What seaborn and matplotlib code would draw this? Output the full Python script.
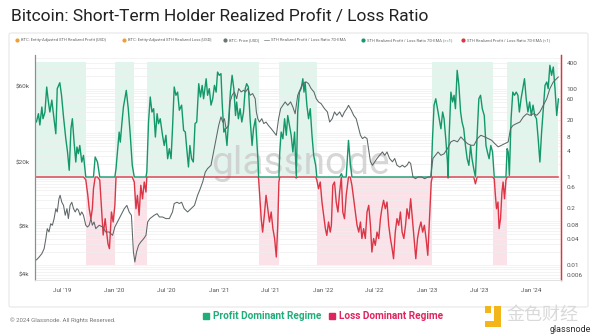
import matplotlib
matplotlib.use("Agg")
import matplotlib.pyplot as plt
from matplotlib.lines import Line2D
from matplotlib.patches import FancyBboxPatch, Rectangle
from matplotlib.ticker import FixedLocator, NullFormatter, LogLocator
import numpy as np
import pandas as pd
import seaborn as sns

# ---------------- data ----------------
ratio_dates = [
    "2019-04-02","2019-04-09","2019-04-14","2019-04-21","2019-04-25","2019-05-02","2019-05-08","2019-05-14","2019-05-19","2019-05-26",
    "2019-05-30","2019-06-09","2019-06-14","2019-06-23","2019-06-29","2019-07-06","2019-07-14","2019-07-20","2019-07-26","2019-08-01",
    "2019-08-06","2019-08-12","2019-08-18","2019-08-22","2019-08-27","2019-09-01","2019-09-08","2019-09-14","2019-09-22","2019-09-29",
    "2019-10-04","2019-10-10","2019-10-15","2019-10-19","2019-10-25","2019-11-02","2019-11-10","2019-11-17","2019-11-22","2019-11-29",
    "2019-12-04","2019-12-09","2019-12-14","2019-12-21","2019-12-27","2020-01-02","2020-01-06","2020-01-11","2020-01-17","2020-01-21",
    "2020-01-27","2020-02-01","2020-02-06","2020-02-11","2020-02-18","2020-02-25","2020-03-03","2020-03-10","2020-03-16","2020-03-21",
    "2020-03-27","2020-04-02","2020-04-08","2020-04-14","2020-04-20","2020-04-23","2020-04-29","2020-05-05","2020-05-11","2020-05-17",
    "2020-05-23","2020-05-29","2020-06-03","2020-06-09","2020-06-17","2020-06-23","2020-06-29","2020-07-05","2020-07-11","2020-07-17",
    "2020-07-22","2020-07-28","2020-08-03","2020-08-09","2020-08-15","2020-08-23","2020-08-30","2020-09-05","2020-09-10","2020-09-16",
    "2020-09-21","2020-09-27","2020-10-03","2020-10-09","2020-10-15","2020-10-22","2020-10-28","2020-11-03","2020-11-08","2020-11-17",
    "2020-11-22","2020-11-28","2020-12-04","2020-12-10","2020-12-16","2020-12-22","2020-12-27","2021-01-02","2021-01-08","2021-01-12",
    "2021-01-18","2021-01-23","2021-01-29","2021-02-04","2021-02-10","2021-02-16","2021-02-22","2021-02-28","2021-03-04","2021-03-10",
    "2021-03-16","2021-03-22","2021-03-28","2021-04-03","2021-04-08","2021-04-14","2021-04-20","2021-04-27","2021-05-02","2021-05-09",
    "2021-05-15","2021-05-18","2021-05-20","2021-05-23","2021-05-29","2021-06-03","2021-06-09","2021-06-15","2021-06-21","2021-06-27",
    "2021-07-03","2021-07-09","2021-07-15","2021-07-21","2021-07-26","2021-07-30","2021-08-02","2021-08-07","2021-08-13","2021-08-19",
    "2021-08-25","2021-08-30","2021-09-05","2021-09-11","2021-09-17","2021-09-23","2021-09-29","2021-10-04","2021-10-10","2021-10-16",
    "2021-10-22","2021-10-26","2021-10-30","2021-11-05","2021-11-11","2021-11-17","2021-11-23","2021-11-29","2021-12-06","2021-12-10",
    "2021-12-16","2021-12-22","2021-12-28","2022-01-03","2022-01-09","2022-01-14","2022-01-20","2022-01-26","2022-01-30","2022-02-04",
    "2022-02-10","2022-02-16","2022-02-22","2022-02-28","2022-03-06","2022-03-11","2022-03-17","2022-03-23","2022-03-31","2022-04-06",
    "2022-04-12","2022-04-18","2022-04-24","2022-04-30","2022-05-06","2022-05-12","2022-05-17","2022-05-23","2022-05-29","2022-06-04",
    "2022-06-10","2022-06-16","2022-06-21","2022-06-27","2022-07-03","2022-07-09","2022-07-15","2022-07-21","2022-07-26","2022-08-01",
    "2022-08-07","2022-08-13","2022-08-19","2022-08-25","2022-08-31","2022-09-05","2022-09-11","2022-09-17","2022-09-23","2022-09-29",
    "2022-10-05","2022-10-11","2022-10-17","2022-10-22","2022-10-29","2022-11-04","2022-11-10","2022-11-16","2022-11-22","2022-11-28",
    "2022-12-04","2022-12-10","2022-12-16","2022-12-22","2022-12-28","2023-01-03","2023-01-09","2023-01-15","2023-01-19","2023-01-25",
    "2023-01-31","2023-02-06","2023-02-12","2023-02-18","2023-02-24","2023-03-01","2023-03-07","2023-03-13","2023-03-15","2023-03-19",
    "2023-03-25","2023-03-31","2023-04-05","2023-04-10","2023-04-16","2023-04-22","2023-04-28","2023-05-03","2023-05-09","2023-05-15",
    "2023-05-21","2023-05-27","2023-06-02","2023-06-07","2023-06-13","2023-06-19","2023-06-25","2023-07-01","2023-07-07","2023-07-13",
    "2023-07-20","2023-07-26","2023-07-31","2023-08-06","2023-08-12","2023-08-18","2023-08-24","2023-08-28","2023-09-01","2023-09-06",
    "2023-09-10","2023-09-15","2023-09-20","2023-09-24","2023-09-29","2023-10-04","2023-10-08","2023-10-12","2023-10-16","2023-10-22",
    "2023-10-28","2023-11-03","2023-11-09","2023-11-15","2023-11-20","2023-11-26","2023-12-02","2023-12-08","2023-12-14","2023-12-20",
    "2023-12-26","2024-01-01","2024-01-07","2024-01-13","2024-01-19","2024-01-25","2024-01-31","2024-02-06","2024-02-12","2024-02-18",
    "2024-02-24","2024-02-29","2024-03-06","2024-03-12","2024-03-18","2024-03-24","2024-03-30","2024-04-05",
]
ratio_values = [
    17.8, 27.5, 15.2, 39, 21.1, 30, 111, 50.7, 30, 56,
    33, 9.6, 102, 139, 72, 23.1, 7.4, 3.7, 1.42, 12.5,
    21.1, 6.2, 2.19, 4.8, 3.4, 5.2, 2.19, 3.1, 0.87, 0.39,
    0.19, 0.113, 0.19, 0.54, 2.85, 2.19, 0.855, 0.16, 0.048, 0.113,
    0.056, 0.030, 0.0235, 0.16, 0.095, 0.227, 1.55, 3.7, 10.5, 6.2,
    17.8, 39, 60, 93, 35.7, 8.9, 1.84, 0.77, 0.19, 0.384,
    0.135, 0.65, 0.32, 0.77, 0.456, 1.3, 17.8, 66, 30, 35.7,
    8.1, 27.5, 16.3, 21.1, 8.9, 5.2, 8.9, 2.6, 4.4, 2.6,
    12.5, 111, 72, 85, 33, 43, 11.5, 10.5, 4.4, 1.69,
    5.2, 2.6, 2.19, 16.3, 17.8, 132, 66, 121, 60, 171,
    72, 102, 43, 60, 121, 85, 243, 205, 223, 50.7,
    10.5, 12.5, 5.2, 21.1, 85, 205, 102, 25, 50.7, 21.1,
    35.7, 17.8, 30, 102, 132, 111, 21.1, 5.2, 12.5, 21.1,
    4.4, 2.19, 0.9, 0.456, 0.113, 0.056, 0.135, 0.384, 0.19, 0.095,
    0.16, 0.067, 0.040, 0.0152, 0.080, 0.77, 3.7, 10.5, 7.4, 21.1,
    8.9, 25, 15, 8.9, 3.7, 10.5, 0.95, 30, 85, 102,
    171, 85, 144, 43, 21.1, 35.7, 8.9, 3.1, 1.84, 0.855,
    0.54, 0.77, 0.27, 0.135, 0.067, 0.047, 0.095, 0.056, 0.080, 0.65,
    0.77, 0.27, 0.16, 0.456, 1.19, 0.16, 0.113, 0.384, 6.8, 2.19,
    0.65, 0.32, 0.16, 0.080, 0.056, 0.095, 0.040, 0.067, 0.040, 0.16,
    0.227, 0.080, 0.0197, 0.040, 0.028, 0.056, 0.040, 0.113, 0.19, 0.295,
    0.19, 0.27, 0.080, 0.040, 0.0235, 0.0139, 0.056, 0.113, 0.080, 0.16,
    0.056, 0.040, 0.080, 0.19, 0.113, 0.32, 0.113, 0.040, 0.0139, 0.040,
    0.067, 0.095, 0.056, 0.080, 0.040, 0.0166, 0.113, 0.77, 6.2, 43,
    60, 35.7, 21.1, 12.5, 30, 21.1, 7.4, 2.19, 0.95, 8.9,
    85, 50.7, 72, 35.7, 266, 121, 30, 17.8, 12.5, 5.2,
    2.6, 1.84, 5.2, 2.6, 1.55, 0.70, 8.9, 60, 72, 35.7,
    25, 5.2, 3.7, 2.6, 5.2, 3.7, 0.91, 0.384, 0.19, 0.27,
    0.067, 0.113, 0.456, 0.77, 0.32, 0.855, 4.4, 3.7, 1.09, 21.1,
    85, 72, 85, 72, 30, 60, 102, 171, 60, 30,
    50.7, 25, 43, 25, 21.1, 7.4, 2.19, 10.5, 35.7, 121,
    144, 102, 346, 205, 316, 102, 25, 60,
]

price_dates = [
    "2019-04-02","2019-04-11","2019-04-21","2019-04-29","2019-05-05","2019-05-10","2019-05-16","2019-05-22","2019-05-28","2019-06-03",
    "2019-06-09","2019-06-14","2019-06-20","2019-06-24","2019-06-30","2019-07-06","2019-07-12","2019-07-18","2019-07-23","2019-07-29",
    "2019-08-04","2019-08-10","2019-08-16","2019-08-22","2019-08-27","2019-09-02","2019-09-08","2019-09-14","2019-09-22","2019-09-28",
    "2019-10-04","2019-10-10","2019-10-15","2019-10-21","2019-10-27","2019-11-08","2019-11-20","2019-12-01","2019-12-13","2019-12-25",
    "2020-01-02","2020-01-11","2020-01-23","2020-02-04","2020-02-13","2020-02-21","2020-02-29","2020-03-07","2020-03-12","2020-03-18",
    "2020-03-25","2020-04-02","2020-04-12","2020-04-20","2020-04-26","2020-05-04","2020-05-11","2020-05-19","2020-05-29","2020-06-06",
    "2020-06-17","2020-06-29","2020-07-11","2020-07-22","2020-07-28","2020-08-07","2020-08-15","2020-08-23","2020-09-01","2020-09-13",
    "2020-09-25","2020-10-07","2020-10-18","2020-10-27","2020-11-05","2020-11-14","2020-11-22","2020-12-04","2020-12-13","2020-12-22",
    "2020-12-31","2021-01-08","2021-01-14","2021-01-20","2021-01-26","2021-02-04","2021-02-09","2021-02-16","2021-02-24","2021-03-04",
    "2021-03-11","2021-03-20","2021-03-28","2021-04-04","2021-04-12","2021-04-20","2021-04-29","2021-05-08","2021-05-12","2021-05-17",
    "2021-05-23","2021-05-31","2021-06-07","2021-06-15","2021-06-23","2021-07-03","2021-07-12","2021-07-21","2021-07-29","2021-08-05",
    "2021-08-13","2021-08-21","2021-08-30","2021-09-09","2021-09-17","2021-09-25","2021-10-04","2021-10-14","2021-10-22","2021-11-03",
    "2021-11-11","2021-11-20","2021-11-30","2021-12-08","2021-12-16","2021-12-25","2022-01-06","2022-01-16","2022-01-24","2022-02-02",
    "2022-02-10","2022-02-18","2022-02-28","2022-03-09","2022-03-17","2022-03-25","2022-03-31","2022-04-10","2022-04-18","2022-04-27",
    "2022-05-06","2022-05-12","2022-05-19","2022-05-27","2022-06-04","2022-06-11","2022-06-16","2022-06-23","2022-07-01","2022-07-09",
    "2022-07-18","2022-07-28","2022-08-05","2022-08-13","2022-08-22","2022-09-01","2022-09-09","2022-09-17","2022-09-27","2022-10-06",
    "2022-10-14","2022-10-22","2022-10-29","2022-11-04","2022-11-12","2022-11-21","2022-11-30","2022-12-12","2022-12-23","2023-01-04",
    "2023-01-13","2023-01-21","2023-01-30","2023-02-08","2023-02-18","2023-03-01","2023-03-13","2023-03-25","2023-04-05","2023-04-17",
    "2023-04-29","2023-05-10","2023-05-22","2023-06-03","2023-06-14","2023-06-26","2023-07-08","2023-07-22","2023-08-03","2023-08-15",
    "2023-08-26","2023-09-07","2023-09-19","2023-09-30","2023-10-12","2023-10-20","2023-10-29","2023-11-10","2023-11-22","2023-12-04",
    "2023-12-16","2023-12-27","2024-01-08","2024-01-20","2024-01-31","2024-02-12","2024-02-24","2024-03-06","2024-03-18","2024-03-30",
    "2024-04-05",
]
price_values = [
    4900, 5100, 5370, 5770, 6670, 7710, 7350, 8280, 8100, 8920,
    10300, 9820, 11900, 12500, 11300, 10800, 9360, 10300, 8920, 10800,
    11300, 10300, 9820, 10300, 10100, 9360, 9820, 9360, 8100, 7900,
    8100, 8920, 8100, 8500, 7710, 8100, 7900, 7350, 7350, 7000,
    7900, 8500, 9360, 10300, 10800, 9820, 9360, 5500, 4760, 5500,
    6060, 6360, 6670, 7000, 8500, 8920, 9130, 9360, 9580, 9130,
    9130, 8920, 8920, 9820, 11100, 11300, 11100, 11300, 10300, 9820,
    10300, 10800, 12500, 13700, 15200, 17500, 18400, 19300, 23400, 28400,
    34400, 38900, 36100, 37900, 32800, 34400, 48300, 53200, 55800, 50600,
    58600, 55800, 57200, 55800, 58600, 53200, 54500, 50600, 41800, 37900,
    36100, 37900, 35300, 36100, 34400, 32800, 31300, 29800, 37900, 43800,
    46000, 48300, 46000, 48300, 44900, 40700, 53200, 58600, 62900, 64500,
    62900, 58600, 55800, 50600, 48300, 47100, 43800, 41800, 36100, 37900,
    41800, 39800, 41800, 38900, 41800, 43800, 46000, 42800, 39800, 37900,
    32800, 29800, 28400, 29100, 28400, 23400, 20300, 19300, 20300, 21300,
    22300, 23400, 22300, 23400, 21300, 20300, 21300, 19300, 18800, 19300,
    18800, 19300, 20300, 19800, 16300, 15900, 16300, 16300, 15900, 16300,
    16300, 21300, 22300, 23400, 22300, 22800, 24600, 27100, 27700, 27100,
    29100, 27700, 26400, 25800, 25800, 28400, 29800, 29100, 28400, 27700,
    26400, 25200, 25800, 26400, 27100, 32800, 34400, 35300, 36100, 38900,
    40700, 39800, 40700, 39800, 41800, 46000, 50600, 58600, 64500, 67700,
    69400,
]

regime_starts = ["2019-04-01", "2019-09-23", "2020-01-03", "2020-03-10", "2020-04-25", "2021-05-23",
                 "2021-07-29", "2021-12-11", "2023-01-17", "2023-08-19", "2023-10-07"]
regime_ends = ["2019-09-23", "2020-01-03", "2020-03-10", "2020-04-25", "2021-05-23", "2021-07-29",
               "2021-12-11", "2023-01-17", "2023-08-19", "2023-10-07", "2024-04-05"]
regime_kinds = ["profit", "loss", "profit", "loss", "profit", "loss",
                "profit", "loss", "profit", "loss", "profit"]

left_ticks = [4000, 8000, 20000, 60000]
left_labels = ["$4k", "$8k", "$20k", "$60k"]
right_ticks = [0.006, 0.01, 0.04, 0.08, 0.2, 0.6, 1, 4, 8, 20, 60, 100, 400]
right_labels = ["0.006", "0.01", "0.04", "0.08", "0.2", "0.6", "1", "4", "8", "20", "60", "100", "400"]
x_tick_dates = ["2019-07-01", "2020-01-01", "2020-07-01", "2021-01-01", "2021-07-01",
                "2022-01-01", "2022-07-01", "2023-01-01", "2023-07-01", "2024-01-01"]
x_tick_labels = ["Jul '19", "Jan '20", "Jul '20", "Jan '21", "Jul '21",
                 "Jan '22", "Jul '22", "Jan '23", "Jul '23", "Jan '24"]

legend_items = ["BTC: Entity-Adjusted STH Realized Profit [USD]",
                "BTC: Entity-Adjusted STH Realized Loss [USD]",
                "BTC: Price [USD]",
                "STH Realized Profit / Loss Ratio 7D-EMA",
                "STH Realized Profit / Loss Ratio 7D-EMA (>=1)",
                "STH Realized Profit / Loss Ratio 7D-EMA (<1)"]

# ---------------- style ----------------
sns.set_theme(style="white")
plt.rcParams["font.family"] = ["Roboto", "DejaVu Sans"]

GREEN = "#13986a"
RED = "#dc3545"
GREY = "#5d6668"
W, H = 600, 334

ratio_df = pd.DataFrame({"date": pd.to_datetime(ratio_dates), "ratio": ratio_values})
ratio_df["profit"] = ratio_df["ratio"].clip(lower=1)
ratio_df["loss"] = ratio_df["ratio"].clip(upper=1)
price_df = pd.DataFrame({"date": pd.to_datetime(price_dates), "price": price_values})

fig = plt.figure(figsize=(W / 100, H / 100), dpi=100)
fig.patch.set_facecolor("white")


def fx(px):
    return px / W


def fy(py):
    return 1 - py / H


# card (behind the axes)
fig.patches.append(FancyBboxPatch((fx(9), fy(307)), fx(588) - fx(9), fy(33) - fy(307),
                                  boxstyle="round,pad=0,rounding_size=0.004",
                                  transform=fig.transFigure, fc="white", ec="#e4e4e4", lw=0.7, zorder=-10))

# bottom axes: ratio (ticks on the right); top twin: price (ticks on the left)
axr = fig.add_axes([fx(35), fy(280), fx(561) - fx(35), fy(55) - fy(280)])
axr.patch.set_visible(False)
axp = axr.twinx()
axp.patch.set_visible(False)

xmin, xmax = pd.Timestamp("2019-03-28"), pd.Timestamp("2024-04-14")

# regimes
for s, e, k in zip(regime_starts, regime_ends, regime_kinds):
    xs = pd.to_datetime([s, e])
    if k == "profit":
        axr.fill_between(xs, 1, 410, color="#19b37a", alpha=0.13, lw=0, zorder=0.5)
    else:
        axr.fill_between(xs, 0.01, 1, color="#e8386a", alpha=0.14, lw=0, zorder=0.5)

# watermark
axr.text(0.505, 0.52, "glassnode", transform=axr.transAxes, ha="center", va="center",
         fontsize=28, color="#c9c9c9", alpha=0.75, zorder=1)

sns.lineplot(data=ratio_df, x="date", y="loss", ax=axr, color=RED, lw=1.0, estimator=None, zorder=3)
sns.lineplot(data=ratio_df, x="date", y="profit", ax=axr, color=GREEN, lw=1.0, estimator=None, zorder=4)
axr.set_yscale("log")
axr.set_ylim(0.00456, 593)

sns.lineplot(data=price_df, x="date", y="price", ax=axp, color=GREY, lw=0.75, estimator=None, zorder=2)
axp.set_yscale("log")
axp.set_ylim(3666, 95300)

axr.set_xlim(xmin, xmax)
axp.set_xlim(xmin, xmax)

# ratio ticks on the right
axr.yaxis.tick_right()
axr.yaxis.set_label_position("right")
axr.yaxis.set_major_locator(FixedLocator(right_ticks))
axr.set_yticklabels(right_labels)
axr.yaxis.set_minor_locator(LogLocator(base=10, subs=np.arange(1, 10)))
axr.yaxis.set_minor_formatter(NullFormatter())
axr.tick_params(axis="y", which="both", length=0, labelsize=4.6, labelcolor="#555555", pad=4)
axr.grid(True, which="both", axis="y", color="#eeeeee", lw=0.5, zorder=0)
axr.grid(False, axis="x")
axr.set_axisbelow(True)

# price ticks on the left
axp.yaxis.tick_left()
axp.yaxis.set_label_position("left")
axp.yaxis.set_major_locator(FixedLocator(left_ticks))
axp.set_yticklabels(left_labels)
axp.yaxis.set_minor_formatter(NullFormatter())
axp.tick_params(axis="y", which="both", length=0, labelsize=4.6, labelcolor="#555555", pad=4)
axp.grid(False)

axr.set_xticks(pd.to_datetime(x_tick_dates))
axr.set_xticklabels(x_tick_labels)
axr.tick_params(axis="x", length=0, labelsize=4.6, labelcolor="#555555", pad=6)
axp.tick_params(axis="x", length=0, labelbottom=False)

for a in (axr, axp):
    a.set_xlabel("")
    a.set_ylabel("")
    a.spines["top"].set_visible(False)
    a.spines["bottom"].set_color("#e2e2e2")
    a.spines["bottom"].set_linewidth(0.6)
    a.spines["left"].set_color("#8a9090")
    a.spines["left"].set_linewidth(0.8)
    a.spines["right"].set_color("#d9363e")
    a.spines["right"].set_linewidth(0.9)

# title
fig.text(fx(11), fy(17), "Bitcoin: Short-Term Holder Realized Profit / Loss Ratio",
         fontsize=12.5, color="#222222", va="center", ha="left")

# top legend row
leg_x = [17, 124, 225, 267, 363, 463]
leg_colors = ["#f0a030", "#f0a030", "#6a7474", "#9aa0a0", GREEN, RED]
for i, (lx, label, c) in enumerate(zip(leg_x, legend_items, leg_colors)):
    if i == 3:
        fig.add_artist(Line2D([fx(lx - 3), fx(lx + 2)], [fy(40), fy(40)], color=c, lw=0.7,
                              transform=fig.transFigure))
    else:
        fig.add_artist(Line2D([fx(lx)], [fy(40)], marker="o", ms=2.0, color=c, lw=0,
                              transform=fig.transFigure))
    fig.text(fx(lx + 4), fy(40), label, fontsize=3.0, color="#666666", va="center", ha="left")

# bottom legend
fig.add_artist(Line2D([fx(206)], [fy(316)], marker="s", ms=3.8, color="#1fae7a", lw=0,
                      transform=fig.transFigure))
fig.text(fx(213), fy(316), "Profit Dominant Regime", fontsize=7.2, fontweight="bold",
         color="#1fae7a", va="center", ha="left")
fig.add_artist(Line2D([fx(332)], [fy(316)], marker="s", ms=3.8, color="#e0245e", lw=0,
                      transform=fig.transFigure))
fig.text(fx(339), fy(316), "Loss Dominant Regime", fontsize=7.2, fontweight="bold",
         color="#e0245e", va="center", ha="left")

# copyright
fig.text(fx(10), fy(320), "© 2024 Glassnode. All Rights Reserved.", fontsize=4.3,
         color="#777777", va="center", ha="left")

# bottom-right marks
fig.patches.append(Rectangle((fx(494), fy(327)), fx(7), fy(306) - fy(327), transform=fig.transFigure,
                             fc="#f2b61b", ec="none"))
fig.patches.append(Rectangle((fx(485), fy(327)), fx(16), fy(321) - fy(327), transform=fig.transFigure,
                             fc="#f2b61b", ec="none"))
fig.patches.append(Rectangle((fx(485), fy(313)), fx(6), fy(306) - fy(313), transform=fig.transFigure,
                             fc="#f2b61b", ec="none"))
fig.text(fx(506), fy(315), "金色财经", fontsize=13, color="#d9d9d9", va="center", ha="left",
         family=["Noto Sans CJK SC", "DejaVu Sans"])
fig.text(fx(591), fy(329), "glassnode", fontsize=6.5, color="#2b2b2b", va="center", ha="right")

fig.savefig("out.png", dpi=100, facecolor="white")
